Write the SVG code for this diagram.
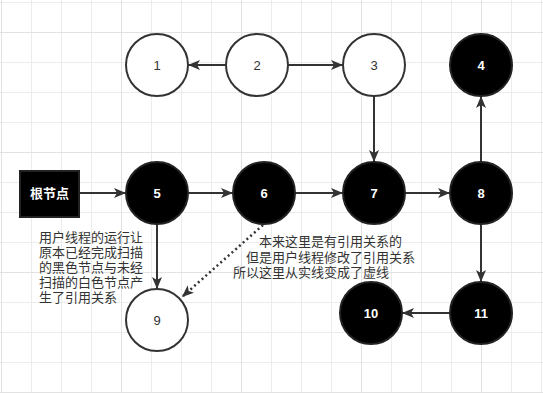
<svg xmlns="http://www.w3.org/2000/svg" width="543" height="393" viewBox="0 0 543 393">
<defs>
<pattern id="minor" width="30" height="30" patternUnits="userSpaceOnUse" x="1" y="2">
<path d="M0 0.5H30M0.5 0V30" stroke="#ececec" stroke-width="1" fill="none"/>
</pattern>
<pattern id="major" width="120" height="120" patternUnits="userSpaceOnUse" x="1" y="32">
<path d="M0 0.5H120M0.5 0V120" stroke="#e2e2e2" stroke-width="1" fill="none"/>
</pattern>
<marker id="arr" viewBox="0 0 12 10" refX="12" refY="5" markerWidth="12" markerHeight="10" markerUnits="userSpaceOnUse" orient="auto">
<path d="M0,0 L12,5 L0,10 L3,5 z" fill="#333"/>
</marker>
</defs>
<style>
.w{fill:#fff;stroke:#333;stroke-width:2}
.b{fill:#000;stroke:#222;stroke-width:2}
.lw{font-family:"Liberation Sans",Arial,sans-serif;font-size:13px;fill:#333;text-anchor:middle}
.lb{font-family:"Liberation Sans",Arial,sans-serif;font-size:13px;font-weight:bold;fill:#fff;text-anchor:middle}
.e{stroke:#333;stroke-width:2;fill:none;marker-end:url(#arr)}
.d{stroke:#333;stroke-width:2.5;fill:none;stroke-dasharray:2 3;marker-end:url(#arr)}
.t{font-family:"Noto Sans CJK SC","Microsoft YaHei",sans-serif;font-size:13px;fill:#333}
</style>
<rect width="543" height="393" fill="#fff"/>
<rect width="543" height="393" fill="url(#minor)"/>
<rect width="543" height="393" fill="url(#major)"/>

<g id="connectors">
<line class="e" x1="226" y1="65" x2="188" y2="65"/>
<line class="e" x1="288" y1="65" x2="343" y2="65"/>
<line class="e" x1="374" y1="96" x2="374" y2="162"/>
<line class="e" x1="80" y1="193" x2="126" y2="193"/>
<line class="e" x1="188" y1="193" x2="233" y2="193"/>
<line class="e" x1="295" y1="193" x2="343" y2="193"/>
<line class="e" x1="405" y1="193" x2="450" y2="193"/>
<line class="e" x1="481" y1="162" x2="481" y2="96"/>
<line class="e" x1="481" y1="224" x2="481" y2="282"/>
<line class="e" x1="450" y1="313" x2="402" y2="313"/>
<line class="e" x1="157" y1="224" x2="157" y2="289"/>
<line class="d" x1="263" y1="225" x2="182" y2="297"/>
</g>

<g id="root"><rect x="20" y="171" width="59" height="46" fill="#000" stroke="#222" stroke-width="2"/><text x="49.5" y="198" class="lb" font-family="Noto Sans CJK SC,sans-serif" style="font-family:'Noto Sans CJK SC',sans-serif">根节点</text></g>
<g id="n1"><circle class="w" cx="157" cy="65" r="31"/><text class="lw" x="157" y="70">1</text></g>
<g id="n2"><circle class="w" cx="257" cy="65" r="31"/><text class="lw" x="257" y="70">2</text></g>
<g id="n3"><circle class="w" cx="374" cy="65" r="31"/><text class="lw" x="374" y="70">3</text></g>
<g id="n4"><circle class="b" cx="481" cy="65" r="31"/><text class="lb" x="481" y="70">4</text></g>
<g id="n5"><circle class="b" cx="157" cy="193" r="31"/><text class="lb" x="157" y="198">5</text></g>
<g id="n6"><circle class="b" cx="264" cy="193" r="31"/><text class="lb" x="264" y="198">6</text></g>
<g id="n7"><circle class="b" cx="374" cy="193" r="31"/><text class="lb" x="374" y="198">7</text></g>
<g id="n8"><circle class="b" cx="481" cy="193" r="31"/><text class="lb" x="481" y="198">8</text></g>
<g id="n9"><circle class="w" cx="157" cy="320" r="31"/><text class="lw" x="157" y="325">9</text></g>
<g id="n10"><circle class="b" cx="371" cy="313" r="31"/><text class="lb" x="371" y="318">10</text></g>
<g id="n11"><circle class="b" cx="481" cy="313" r="31"/><text class="lb" x="481" y="318">11</text></g>

<g id="note-left" class="t">
<text x="39" y="242">用户线程的运行让</text>
<text x="39" y="257">原本已经完成扫描</text>
<text x="39" y="272">的黑色节点与未经</text>
<text x="39" y="287">扫描的白色节点产</text>
<text x="39" y="302">生了引用关系</text>
</g>
<g id="note-mid" class="t">
<text x="259" y="246">本来这里是有引用关系的</text>
<text x="246" y="261.5">但是用户线程修改了引用关系</text>
<text x="233" y="277">所以这里从实线变成了虚线</text>
</g>
</svg>
